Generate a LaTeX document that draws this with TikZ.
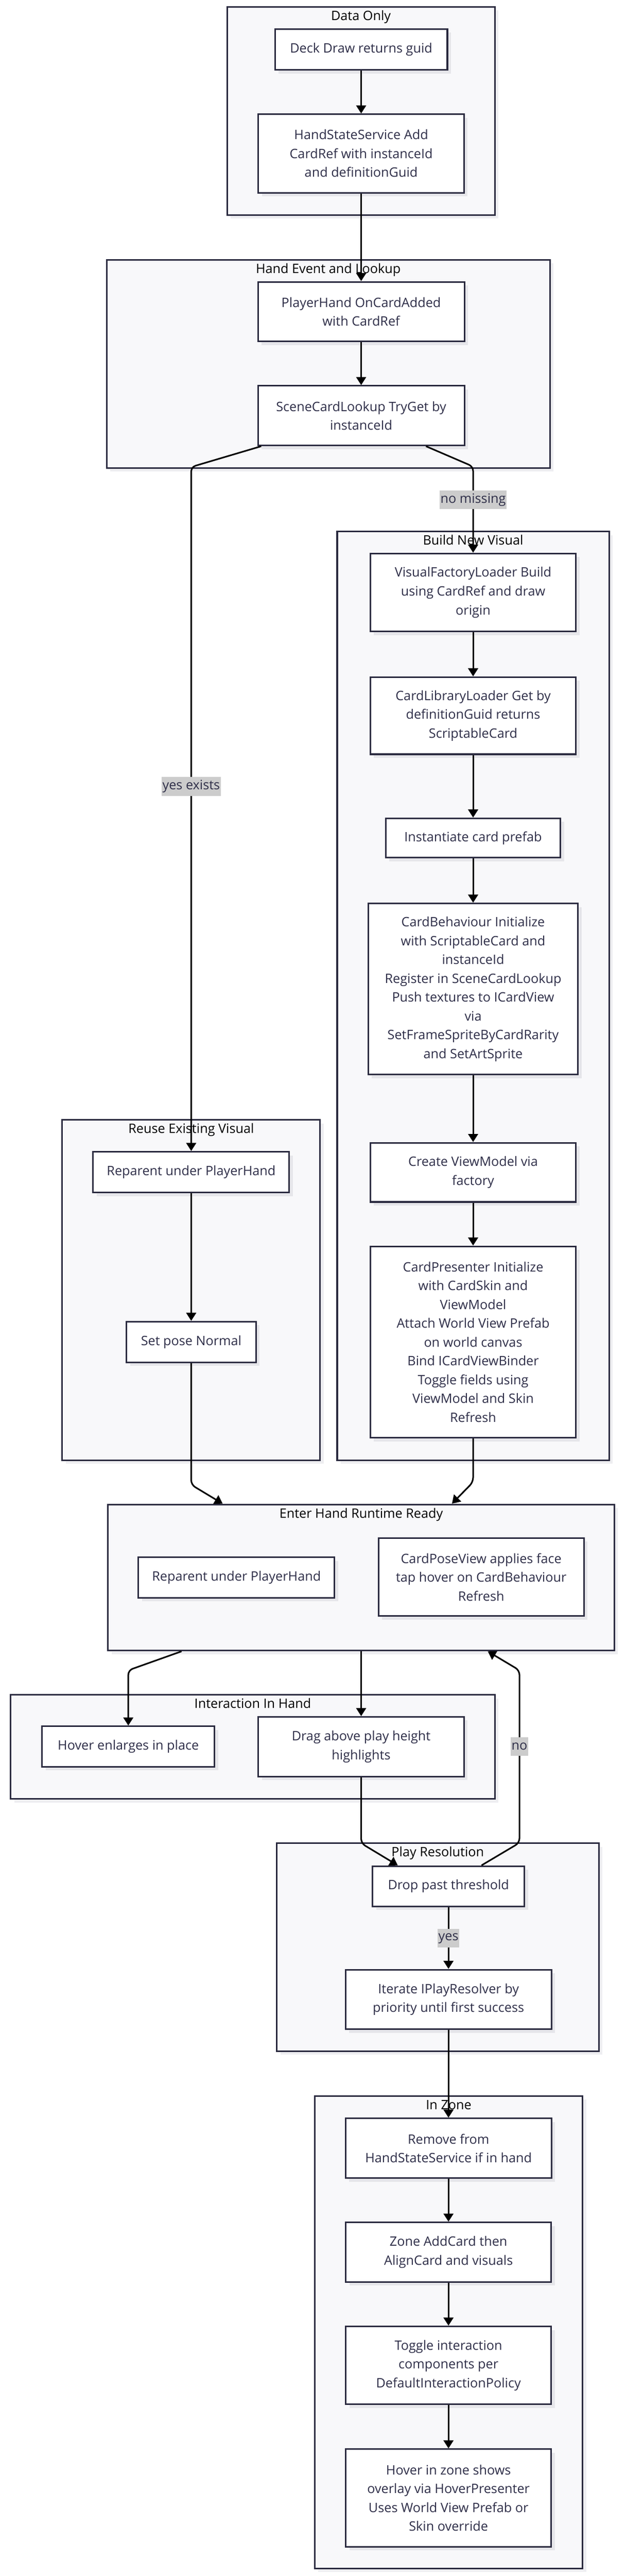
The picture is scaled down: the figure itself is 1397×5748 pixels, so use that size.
\documentclass[tikz,border=0pt]{standalone}
\usepackage{fontspec}
\setmainfont{Open Sans}
\usetikzlibrary{arrows.meta,shadows}
\definecolor{nodeborder}{HTML}{2B2B40}
\definecolor{nodetext}{HTML}{2E2E48}
\definecolor{clusterfill}{HTML}{F8F8FA}
\definecolor{shadowcol}{HTML}{E6E6EA}
\definecolor{clshadow}{HTML}{EEEEF1}
\definecolor{labelbg}{HTML}{CCCCCC}
\tikzset{
  x=0.5pt, y=-0.5pt,
  txt/.style={font=\fontsize{14.5}{21}\selectfont},
  box/.style={txt, draw=nodeborder, line width=1.75pt, fill=white, text=nodetext,
    align=center, inner sep=0pt,
    drop shadow={shadow xshift=4pt, shadow yshift=-4pt, fill=shadowcol, opacity=1}},
  cluster/.style={draw=nodeborder, line width=1.75pt, fill=clusterfill, inner sep=0pt,
    drop shadow={shadow xshift=4pt, shadow yshift=-4pt, fill=clshadow, opacity=1}},
  ctitle/.style={txt, text=black, anchor=base, inner sep=0pt},
  edge/.style={draw=black, line width=1.75pt, -{Triangle[length=9pt,width=11pt]}, rounded corners=5pt},
  elabel/.style={txt, fill=labelbg, text=nodetext, inner xsep=1pt, inner ysep=0pt, minimum height=21pt}
}
\begin{document}
\begin{tikzpicture}
\fill[white] (0,0) rectangle (1397,5748);
\useasboundingbox (0,0) rectangle (1397,5748);

% clusters
\node[cluster, minimum width=299pt, minimum height=232.5pt] (dataC) at (806,247.5) {};
\node[ctitle] (dataT) at (806,45) {Data Only};
\node[cluster, minimum width=495pt, minimum height=232pt] (handC) at (733,812) {};
\node[ctitle] (handT) at (733,610) {Hand Event and Lookup};
\node[cluster, minimum width=303.5pt, minimum height=1036pt] (buildC) at (1056.5,2222) {};
\node[ctitle] (buildT) at (1056.5,1216) {Build New Visual};
\node[cluster, minimum width=288pt, minimum height=379.5pt] (reuseC) at (427,2878.5) {};
\node[ctitle] (reuseT) at (427,2529) {Reuse Existing Visual};
\node[cluster, minimum width=565.5pt, minimum height=163pt] (enterC) at (806.5,3520) {};
\node[ctitle] (enterT) at (806.5,3387) {Enter Hand Runtime Ready};
\node[cluster, minimum width=540.5pt, minimum height=116pt] (interC) at (564.5,3898) {};
\node[ctitle] (interT) at (564.5,3812) {Interaction In Hand};
\node[cluster, minimum width=359.5pt, minimum height=232pt] (playC) at (977.5,4345) {};
\node[ctitle] (playT) at (977.5,4143) {Play Resolution};
\node[cluster, minimum width=299pt, minimum height=527pt] (zoneC) at (1002,5204) {};
\node[ctitle] (zoneT) at (1002,4707) {In Zone};

% nodes
\node[box, minimum width=192.5pt, minimum height=45.5pt] (deck) at (806.5,110.5) {Deck Draw returns guid};
\node[box, minimum width=229.5pt, minimum height=87.5pt] (hss) at (806.5,342.5) {HandStateService Add\\CardRef with instanceId\\and definitionGuid};
\node[box, minimum width=230.5pt, minimum height=66.5pt] (ph) at (806.5,695.5) {PlayerHand OnCardAdded\\with CardRef};
\node[box, minimum width=230.5pt, minimum height=66.5pt] (scl) at (806.5,927.5) {SceneCardLookup TryGet by\\instanceId};
\node[box, minimum width=229.5pt, minimum height=87pt] (vfl) at (1056.5,1322) {VisualFactoryLoader Build\\using CardRef and draw\\origin};
\node[box, minimum width=229.5pt, minimum height=86pt] (cll) at (1056.5,1597) {CardLibraryLoader Get by\\definitionGuid returns\\ScriptableCard};
\node[box, minimum width=195pt, minimum height=44pt] (inst) at (1056.5,1870) {Instantiate card prefab};
\node[box, minimum width=234pt, minimum height=191pt] (cb) at (1056.5,2207) {CardBehaviour Initialize\\with ScriptableCard and\\instanceId\\Register in SceneCardLookup\\Push textures to ICardView\\via\\SetFrameSpriteByCardRarity\\and SetArtSprite};
\node[box, minimum width=229.5pt, minimum height=66pt] (cvm) at (1056.5,2616) {Create ViewModel via\\factory};
\node[box, minimum width=229.5pt, minimum height=213.5pt] (cp) at (1056.5,2994.5) {CardPresenter Initialize\\with CardSkin and\\ViewModel\\Attach World View Prefab\\on world canvas\\Bind ICardViewBinder\\Toggle fields using\\ViewModel and Skin\\Refresh};
\node[box, minimum width=219pt, minimum height=45.5pt] (rep1) at (427,2615.5) {Reparent under PlayerHand};
\node[box, minimum width=144.5pt, minimum height=45.5pt] (spn) at (427,2994.5) {Set pose Normal};
\node[box, minimum width=219pt, minimum height=45pt] (rep2) at (528,3520) {Reparent under PlayerHand};
\node[box, minimum width=229.5pt, minimum height=87pt] (cpv) at (1074.5,3519) {CardPoseView applies face\\tap hover on CardBehaviour\\Refresh};
\node[box, minimum width=192.5pt, minimum height=45pt] (hov) at (286.5,3897) {Hover enlarges in place};
\node[box, minimum width=229.5pt, minimum height=66.5pt] (drag) at (806.5,3897.5) {Drag above play height\\highlights};
\node[box, minimum width=169.5pt, minimum height=45pt] (drop) at (1001.5,4209) {Drop past threshold};
\node[box, minimum width=230pt, minimum height=66.5pt] (iter) at (1001.5,4461.5) {Iterate IPlayResolver by\\priority until first success};
\node[box, minimum width=230pt, minimum height=66.5pt] (rem) at (1001.5,4793.5) {Remove from\\HandStateService if in hand};
\node[box, minimum width=229.5pt, minimum height=66.5pt] (zac) at (1001.5,5025.5) {Zone AddCard then\\AlignCard and visuals};
\node[box, minimum width=229.5pt, minimum height=87pt] (tog) at (1001.5,5278) {Toggle interaction\\components per\\DefaultInteractionPolicy};
\node[box, minimum width=229.5pt, minimum height=109pt] (hiz) at (1001.5,5574) {Hover in zone shows\\overlay via HoverPresenter\\Uses World View Prefab or\\Skin override};

% edges
\draw[edge] (deck.south) -- (hss.north);
\draw[edge] (hss.south) -- (ph.north);
\draw[edge] (ph.south) -- (scl.north);
\draw[edge] ([xshift=4.5pt]scl.south west) -- (427,1042) -- (rep1.north);
\draw[edge] ([xshift=188.5pt]scl.south west) -- (1056.5,1041) -- (vfl.north);
\draw[edge] (vfl.south) -- (cll.north);
\draw[edge] (cll.south) -- (inst.north);
\draw[edge] (inst.south) -- (cb.north);
\draw[edge] (cb.south) -- (cvm.north);
\draw[edge] (cvm.south) -- (cp.north);
\draw[edge] (rep1.south) -- (spn.north);
\draw[edge] (spn.south) -- (427,3313) -- ([xshift=129pt]enterC.north west);
\draw[edge] (cp.south) -- (1056.5,3307) -- ([xshift=385pt]enterC.north west);
\draw[edge] ([xshift=83pt]enterC.south west) -- (286.5,3727) -- (hov.north);
\draw[edge] (enterC.south) -- (drag.north);
\draw[edge] (drag.south) -- (806.5,4113) -- ([xshift=29pt]drop.north west);
\draw[edge] ([xshift=122.5pt]drop.north west) -- (1160,4112) -- (1160,3727) -- ([xshift=425pt]enterC.south west);
\draw[edge] (drop.south) -- (iter.north);
\draw[edge] (iter.south) -- (rem.north);
\draw[edge] (rem.south) -- (zac.north);
\draw[edge] (zac.south) -- (tog.north);
\draw[edge] (tog.south) -- (hiz.north);

% edge labels
\node[elabel] (lYesEx) at (427,1755) {yes exists};
\node[elabel] (lNoMiss) at (1056.5,1115) {no missing};
\node[elabel] (lNo) at (1160,3897) {no};
\node[elabel] (lYes) at (1001.5,4325) {yes};
\end{tikzpicture}
\end{document}
